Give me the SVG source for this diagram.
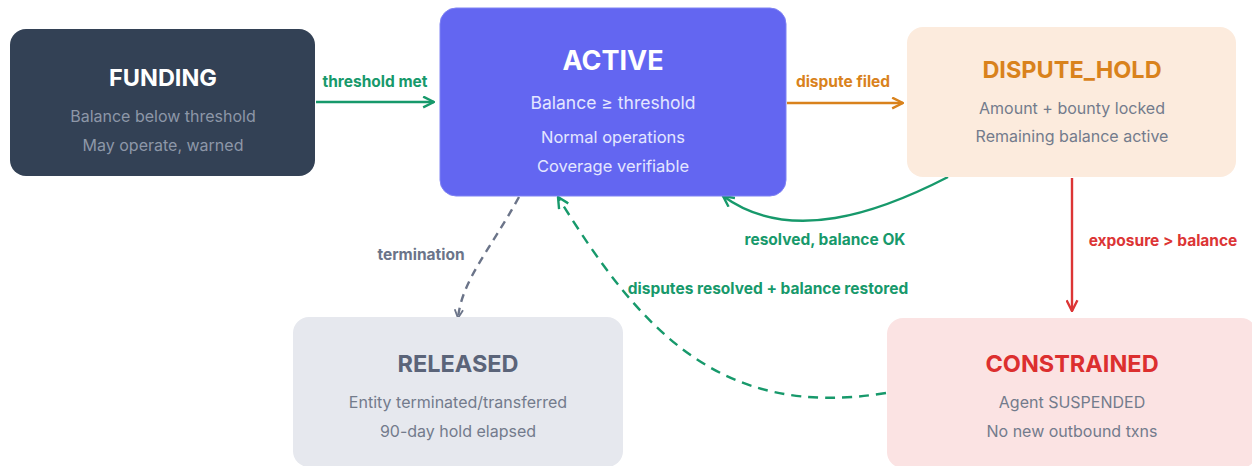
<svg xmlns="http://www.w3.org/2000/svg" width="1252" height="466" viewBox="0 0 1252 466">
<style>
text{font-family:Inter,"Noto Sans","Liberation Sans",sans-serif;text-anchor:middle}
.t{font-weight:700;font-size:23.5px}
.s{font-size:16px}
.a{font-size:16.5px}
.l{font-weight:700;font-size:15.5px}
.c{fill:none;stroke-width:2.4}
</style>
<defs>
<marker id="ag" viewBox="0 0 12 12" refX="11" refY="6" markerWidth="13" markerHeight="13" markerUnits="userSpaceOnUse" orient="auto"><path d="M1,1 L11,6 L1,11" fill="none" stroke="#17996b" stroke-width="2.2"/></marker>
<marker id="ao" viewBox="0 0 12 12" refX="11" refY="6" markerWidth="13" markerHeight="13" markerUnits="userSpaceOnUse" orient="auto"><path d="M1,1 L11,6 L1,11" fill="none" stroke="#d9821c" stroke-width="2.2"/></marker>
<marker id="ar" viewBox="0 0 12 12" refX="11" refY="6" markerWidth="13" markerHeight="13" markerUnits="userSpaceOnUse" orient="auto"><path d="M1,1 L11,6 L1,11" fill="none" stroke="#dc3535" stroke-width="2.2"/></marker>
<marker id="ay" viewBox="0 0 12 12" refX="11" refY="6" markerWidth="10" markerHeight="10" markerUnits="userSpaceOnUse" orient="auto"><path d="M1,1 L11,6 L1,11" fill="none" stroke="#6b7489" stroke-width="2.2"/></marker>
</defs>
<rect width="1252" height="466" fill="#ffffff"/>
<g id="connectors">
<line class="c" x1="316" y1="102" x2="434" y2="102" stroke="#17996b" marker-end="url(#ag)"/>
<text class="l" x="375" y="87" fill="#17996b">threshold met</text>
<line class="c" x1="787" y1="103" x2="903" y2="103" stroke="#d9821c" marker-end="url(#ao)"/>
<text class="l" x="843" y="87" fill="#d9821c">dispute filed</text>
<line class="c" x1="1072" y1="178" x2="1072" y2="311" stroke="#dc3535" marker-end="url(#ar)"/>
<text class="l" x="1163" y="246" fill="#dc3535">exposure &gt; balance</text>
<path class="c" d="M948,177 C880,212 790,245 723,196" stroke="#17996b" marker-end="url(#ag)"/>
<text class="l" x="825" y="245" fill="#17996b">resolved, balance OK</text>
<path class="c" d="M519,197 C490,250 462,280 458,318" stroke="#6b7489" stroke-dasharray="8 6" marker-end="url(#ay)"/>
<text class="l" x="421" y="260" fill="#6b7489">termination</text>
<path class="c" d="M886,393 C720,420 640,330 558,197" stroke="#17996b" stroke-dasharray="10 7" marker-end="url(#ag)"/>
<text class="l" x="768" y="294" fill="#17996b">disputes resolved + balance restored</text>
</g>
<g id="funding">
<rect x="10" y="29" width="305" height="147" rx="16" fill="#334155"/>
<text class="t" x="163" y="86" fill="#ffffff">FUNDING</text>
<text class="s" x="163" y="122" fill="#8d97a8">Balance below threshold</text>
<text class="s" x="163" y="151" fill="#8d97a8">May operate, warned</text>
</g>
<g id="active">
<rect x="440" y="8" width="346" height="188" rx="16" fill="#6366f1" stroke="#7f82f3" stroke-width="1"/>
<text x="613" y="70" fill="#ffffff" font-size="27" font-weight="700">ACTIVE</text>
<text x="613" y="109" fill="#e4e6ff" font-size="17.5">Balance ≥ threshold</text>
<text class="a" x="613" y="143" fill="#e4e6ff">Normal operations</text>
<text class="a" x="613" y="172" fill="#e4e6ff">Coverage verifiable</text>
</g>
<g id="dispute_hold">
<rect x="907" y="27" width="329" height="150" rx="16" fill="#fcebdd"/>
<text class="t" x="1072" y="78" fill="#d9821c">DISPUTE_HOLD</text>
<text class="s" x="1072" y="114" fill="#737b8c">Amount + bounty locked</text>
<text class="s" x="1072" y="142" fill="#737b8c">Remaining balance active</text>
</g>
<g id="released">
<rect x="293" y="317" width="330" height="150" rx="16" fill="#e6e8ee"/>
<text class="t" x="458" y="372" fill="#5b6479">RELEASED</text>
<text class="s" x="458" y="408" fill="#737b8c">Entity terminated/transferred</text>
<text class="s" x="458" y="437" fill="#737b8c">90-day hold elapsed</text>
</g>
<g id="constrained">
<rect x="887" y="318" width="370" height="150" rx="16" fill="#fbe3e3"/>
<text class="t" x="1072" y="372" fill="#dc2f2f">CONSTRAINED</text>
<text class="s" x="1072" y="408" fill="#737b8c">Agent SUSPENDED</text>
<text class="s" x="1072" y="437" fill="#737b8c">No new outbound txns</text>
</g>
</svg>
